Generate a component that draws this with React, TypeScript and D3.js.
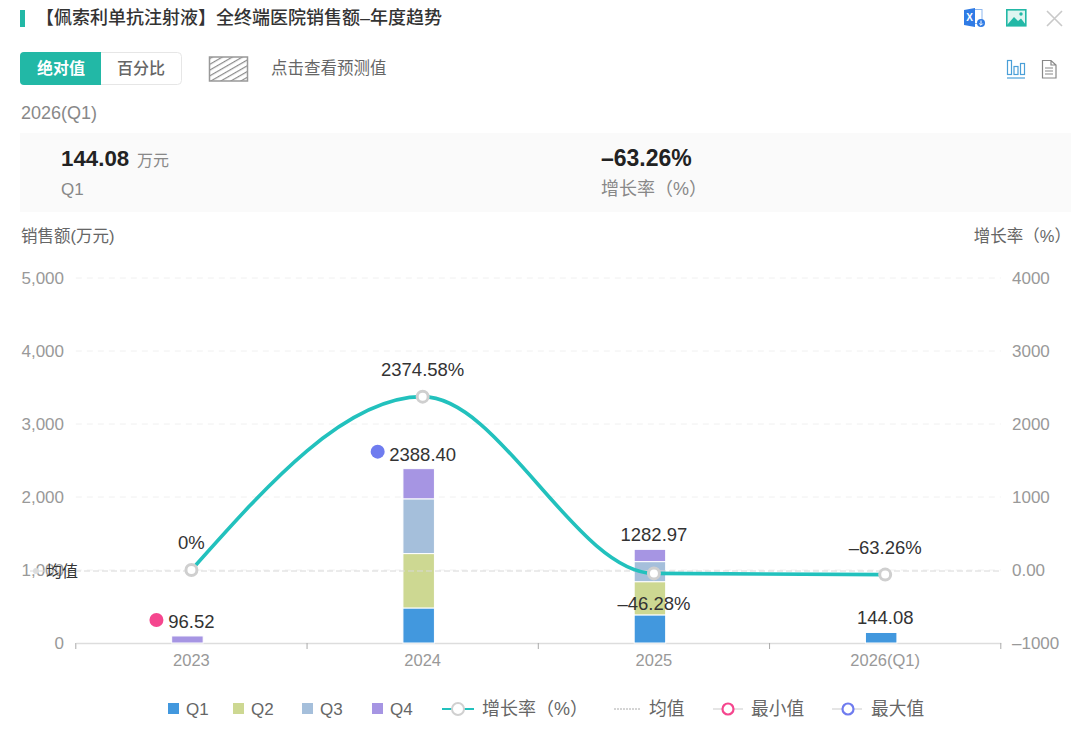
import { useEffect, useRef } from 'react';
import * as d3 from 'd3';

const years = ['2023', '2024', '2025', '2026(Q1)'];
const quarters = ['Q1', 'Q2', 'Q3', 'Q4'];
const q1Values = [0, 480, 385, 144.08];
const q2Values = [0, 745, 455, 0];
const q3Values = [0, 750, 275, 0];
const q4Values = [96.52, 413.4, 167.97, 0];
const growthValues = [0, 2374.58, -46.28, -63.26];
const growthLabels = ['0%', '2374.58%', '–46.28%', '–63.26%'];
const totalLabels = ['96.52', '2388.40', '1282.97', '144.08'];
const leftTicks = [0, 1000, 2000, 3000, 4000, 5000];
const rightTicks = [-1000, 0, 1000, 2000, 3000, 4000];
const meanValue = 1000;
const minIndex = 0;
const maxIndex = 1;

const quarterColors = ['#4298de', '#cdd892', '#a5bfdb', '#a695e3'];
const TEAL = '#22c1bd';
const FONT = '"Liberation Sans", "Noto Sans CJK SC", sans-serif';

const App = () => {
  const svgRef = useRef<SVGSVGElement>(null);

  useEffect(() => {
    if (!svgRef.current) return;
    const svg = d3.select(svgRef.current);
    svg.selectAll('*').remove();

    const text = (
      x: number,
      y: number,
      s: string,
      size: number,
      fill: string,
      anchor = 'start',
      weight = 400,
    ) =>
      svg
        .append('text')
        .attr('x', x)
        .attr('y', y)
        .attr('font-size', size)
        .attr('fill', fill)
        .attr('text-anchor', anchor)
        .attr('font-weight', weight)
        .text(s);

    // Header
    svg.append('rect').attr('x', 20).attr('y', 10).attr('width', 5).attr('height', 17).attr('fill', '#22b8a6');
    text(36, 24, '【佩索利单抗注射液】全终端医院销售额–年度趋势', 18, '#333', 'start', 500);

    // Excel icon
    const xl = svg.append('g').attr('transform', 'translate(964,8)');
    xl.append('rect').attr('x', 8).attr('y', 1.5).attr('width', 10).attr('height', 14).attr('fill', '#fff').attr('stroke', '#8fb8ee');
    xl.append('path').attr('d', 'M0,2 L11,0 V19 L0,17 Z').attr('fill', '#2f7be5');
    xl.append('text').attr('x', 5.5).attr('y', 13).attr('font-size', 10).attr('font-weight', 700).attr('fill', '#fff').attr('text-anchor', 'middle').text('X');
    xl.append('circle').attr('cx', 17).attr('cy', 15).attr('r', 4).attr('fill', '#2f7be5');
    xl.append('path').attr('d', 'M17,12.5 V17 M15.2,15.5 L17,17.3 L18.8,15.5').attr('stroke', '#fff').attr('fill', 'none');

    // Image icon
    const im = svg.append('g').attr('transform', 'translate(1006,9)');
    im.append('rect').attr('x', 0.8).attr('y', 0.8).attr('width', 19).attr('height', 16).attr('fill', '#dff5f1').attr('stroke', '#22b8a6').attr('stroke-width', 1.6);
    im.append('path').attr('d', 'M1,16 L8,8 L12,12 L15,9.5 L20,16 Z').attr('fill', '#22b8a6');
    im.append('circle').attr('cx', 15).attr('cy', 5).attr('r', 1.7).attr('fill', '#22b8a6');

    // Close icon
    svg.append('path').attr('d', 'M1047,11 L1062,26 M1062,11 L1047,26').attr('stroke', '#c9c9c9').attr('stroke-width', 1.6).attr('fill', 'none');

    // Toggle buttons
    svg.append('rect').attr('x', 20.5).attr('y', 52.5).attr('width', 161).attr('height', 32).attr('rx', 4).attr('fill', '#fff').attr('stroke', '#e6e6e6');
    svg.append('path').attr('d', 'M101,52 H24 a4,4 0 0 0 -4,4 V81 a4,4 0 0 0 4,4 H101 Z').attr('fill', '#22b8a6');
    text(61, 74, '绝对值', 16, '#fff', 'middle', 700);
    text(141, 74, '百分比', 16, '#666', 'middle', 500);

    // Forecast hatch swatch
    const defs = svg.append('defs');
    const hatch = defs
      .append('pattern')
      .attr('id', 'hatch')
      .attr('width', 5)
      .attr('height', 5)
      .attr('patternUnits', 'userSpaceOnUse')
      .attr('patternTransform', 'rotate(-30)');
    hatch.append('rect').attr('width', 5).attr('height', 5).attr('fill', '#fff');
    hatch.append('rect').attr('width', 5).attr('height', 1.2).attr('fill', '#8a8a8a');
    svg.append('rect').attr('x', 209.5).attr('y', 57).attr('width', 38).attr('height', 24).attr('fill', 'url(#hatch)').attr('stroke', '#999').attr('stroke-width', 1.5);
    text(271, 74, '点击查看预测值', 16.5, '#666');

    // Chart type icons
    const barIcon = svg.append('g').attr('stroke', '#4a9fd8').attr('fill', 'none').attr('stroke-width', 1.2);
    barIcon.append('rect').attr('x', 1007.5).attr('y', 60.5).attr('width', 4).attr('height', 14);
    barIcon.append('rect').attr('x', 1014).attr('y', 66.5).attr('width', 4).attr('height', 8);
    barIcon.append('rect').attr('x', 1020.5).attr('y', 63.5).attr('width', 4).attr('height', 11);
    barIcon.append('path').attr('d', 'M1007,78 H1025');
    const docIcon = svg.append('g').attr('stroke', '#888').attr('fill', 'none').attr('stroke-width', 1.2);
    docIcon.append('path').attr('d', 'M1042.5,60.5 H1051 L1056,65 V78 H1042.5 Z M1051,60.5 V65 H1056');
    docIcon.append('path').attr('d', 'M1045,68 H1053 M1045,71 H1053 M1045,74 H1053');

    // Summary panel
    text(21, 119, '2026(Q1)', 18, '#888');
    svg.append('rect').attr('x', 20).attr('y', 133).attr('width', 1051).attr('height', 79).attr('fill', '#fafafa');
    text(61, 166, '144.08', 22.3, '#222', 'start', 700);
    text(137, 166, '万元', 16, '#888');
    text(61, 195, 'Q1', 17, '#888');
    text(601, 166, '–63.26%', 23, '#222', 'start', 700);
    text(601, 195, '增长率（%）', 18, '#888');

    text(21, 242, '销售额(万元)', 16.5, '#666');
    text(1071, 242, '增长率（%）', 16.5, '#666', 'end');

    // Scales
    const left = 75.8;
    const right = 1000.8;
    const x = d3.scaleBand<string>().domain(years).range([left, right]);
    const yLeft = d3.scaleLinear().domain([0, 5000]).range([643, 278]);
    const yRight = d3.scaleLinear().domain([-1000, 4000]).range([643, 278]);
    const barWidth = 31.5;
    const barShift = -4;
    const cx = (d: string) => (x(d) || 0) + x.bandwidth() / 2;

    // Grid lines
    svg
      .append('g')
      .selectAll('line')
      .data(leftTicks.filter(d => d > 0))
      .enter()
      .append('line')
      .attr('x1', left)
      .attr('x2', right)
      .attr('y1', d => yLeft(d))
      .attr('y2', d => yLeft(d))
      .attr('stroke', '#f0f0f0')
      .attr('stroke-dasharray', '6 5');

    // Y axes
    const gLeft = svg
      .append('g')
      .attr('transform', `translate(${left},0)`)
      .call(
        d3
          .axisLeft(yLeft)
          .tickValues(leftTicks)
          .tickSize(0)
          .tickPadding(11.8)
          .tickFormat(d => d3.format(',')(+d)),
      );
    gLeft.select('.domain').remove();
    gLeft.selectAll('text').attr('font-size', 17).attr('fill', '#999').attr('font-family', FONT);

    const gRight = svg
      .append('g')
      .attr('transform', `translate(${right},0)`)
      .call(
        d3
          .axisRight(yRight)
          .tickValues(rightTicks)
          .tickSize(0)
          .tickPadding(11.2)
          .tickFormat(d => (+d === 0 ? '0.00' : +d < 0 ? `–${Math.abs(+d)}` : `${+d}`)),
      );
    gRight.select('.domain').remove();
    gRight.selectAll('text').attr('font-size', 17).attr('fill', '#999').attr('font-family', FONT);

    // X axis
    const gBottom = svg
      .append('g')
      .attr('transform', 'translate(0,643)')
      .call(d3.axisBottom(x).tickSize(0).tickPadding(11));
    gBottom.select('.domain').attr('stroke', '#dddddd').attr('stroke-width', 1.5);
    gBottom.selectAll('text').attr('font-size', 16.5).attr('fill', '#999').attr('font-family', FONT);
    svg
      .append('g')
      .selectAll('line')
      .data([...years.map(d => x(d) || 0), right])
      .enter()
      .append('line')
      .attr('x1', d => d)
      .attr('x2', d => d)
      .attr('y1', 643)
      .attr('y2', 649)
      .attr('stroke', '#aaa');

    // Stacked bars
    const rows = years.map((year, i) => ({
      year,
      Q1: q1Values[i],
      Q2: q2Values[i],
      Q3: q3Values[i],
      Q4: q4Values[i],
    }));
    const stacked = d3.stack<(typeof rows)[number]>().keys(quarters)(rows);
    svg
      .append('g')
      .selectAll('g')
      .data(stacked)
      .enter()
      .append('g')
      .attr('fill', (_, i) => quarterColors[i])
      .selectAll('rect')
      .data(d => d.filter(s => s[1] > s[0]))
      .enter()
      .append('rect')
      .attr('x', d => cx(d.data.year) + barShift - barWidth / 2)
      .attr('width', barWidth)
      .attr('y', d => yLeft(d[1]))
      .attr('height', d => yLeft(d[0]) - yLeft(d[1]))
      .attr('stroke', '#fff')
      .attr('stroke-width', 1);

    // Mean line
    svg
      .append('line')
      .attr('x1', 30)
      .attr('x2', right)
      .attr('y1', yLeft(meanValue) + 1)
      .attr('y2', yLeft(meanValue) + 1)
      .attr('stroke', '#d8d8d8')
      .attr('stroke-dasharray', '6 3');
    svg.append('circle').attr('cx', 36).attr('cy', yLeft(meanValue) + 1).attr('r', 3).attr('fill', '#ddd');
    svg
      .append('text')
      .attr('x', 46)
      .attr('y', yLeft(meanValue) + 7)
      .attr('font-size', 16)
      .attr('fill', '#333')
      .text('均值');

    // Growth line
    const line = d3
      .line<number>()
      .x((_, i) => cx(years[i]))
      .y(d => yRight(d))
      .curve(d3.curveMonotoneX);
    svg
      .append('path')
      .attr('d', line(growthValues))
      .attr('fill', 'none')
      .attr('stroke', TEAL)
      .attr('stroke-width', 3.6);
    svg
      .append('g')
      .selectAll('circle')
      .data(growthValues)
      .enter()
      .append('circle')
      .attr('cx', (_, i) => cx(years[i]))
      .attr('cy', d => yRight(d))
      .attr('r', 5.5)
      .attr('fill', '#fff')
      .attr('stroke', '#cfcfcf')
      .attr('stroke-width', 3);

    // Value labels
    const labelColor = '#333';
    growthValues.forEach((v, i) => {
      const below = v === growthValues[2];
      text(cx(years[i]), yRight(v) + (below ? 37 : -21), growthLabels[i], 18.5, labelColor, 'middle');
    });
    const totals = years.map((_, i) => q1Values[i] + q2Values[i] + q3Values[i] + q4Values[i]);
    totals.forEach((v, i) => {
      text(cx(years[i]), yLeft(v) - 8, totalLabels[i], 18.5, labelColor, 'middle');
    });

    // Min and max markers
    svg
      .append('circle')
      .attr('cx', cx(years[minIndex]) - 35)
      .attr('cy', yLeft(totals[minIndex]) - 16)
      .attr('r', 7)
      .attr('fill', '#f5468e');
    svg
      .append('circle')
      .attr('cx', cx(years[maxIndex]) - 45)
      .attr('cy', yLeft(totals[maxIndex]) - 17)
      .attr('r', 7)
      .attr('fill', '#6f7cef');

    // Legend
    const legendY = 709;
    const legendSize = 17.7;
    quarters.forEach((q, i) => {
      const lx = [168, 233, 302, 372][i];
      svg.append('rect').attr('x', lx).attr('y', legendY - 6).attr('width', 11).attr('height', 11).attr('fill', quarterColors[i]);
      text(lx + 18, legendY + 6, q, 17, '#666');
    });
    svg.append('line').attr('x1', 442).attr('x2', 474).attr('y1', legendY).attr('y2', legendY).attr('stroke', TEAL).attr('stroke-width', 2);
    svg.append('circle').attr('cx', 458).attr('cy', legendY).attr('r', 6).attr('fill', '#fff').attr('stroke', '#d0d0d0').attr('stroke-width', 2);
    text(482, legendY + 6, '增长率（%）', 18, '#666');
    svg.append('line').attr('x1', 614).attr('x2', 640).attr('y1', legendY).attr('y2', legendY).attr('stroke', '#aaa').attr('stroke-dasharray', '2 1');
    text(649, legendY + 6, '均值', legendSize, '#666');
    svg.append('line').attr('x1', 713).attr('x2', 743).attr('y1', legendY).attr('y2', legendY).attr('stroke', '#ddd').attr('stroke-width', 1.5);
    svg.append('circle').attr('cx', 728).attr('cy', legendY).attr('r', 5.5).attr('fill', '#fff').attr('stroke', '#f5468e').attr('stroke-width', 2.2);
    text(751, legendY + 6, '最小值', legendSize, '#666');
    svg.append('line').attr('x1', 832).attr('x2', 862).attr('y1', legendY).attr('y2', legendY).attr('stroke', '#ddd').attr('stroke-width', 1.5);
    svg.append('circle').attr('cx', 848).attr('cy', legendY).attr('r', 5.5).attr('fill', '#fff').attr('stroke', '#6f7cef').attr('stroke-width', 2.2);
    text(871, legendY + 6, '最大值', legendSize, '#666');
  }, []);

  return (
    <svg
      ref={svgRef}
      width={1080}
      height={737}
      style={{ position: 'absolute', left: 0, top: 0, fontFamily: FONT, background: '#fff' }}
    />
  );
};

export default App;
